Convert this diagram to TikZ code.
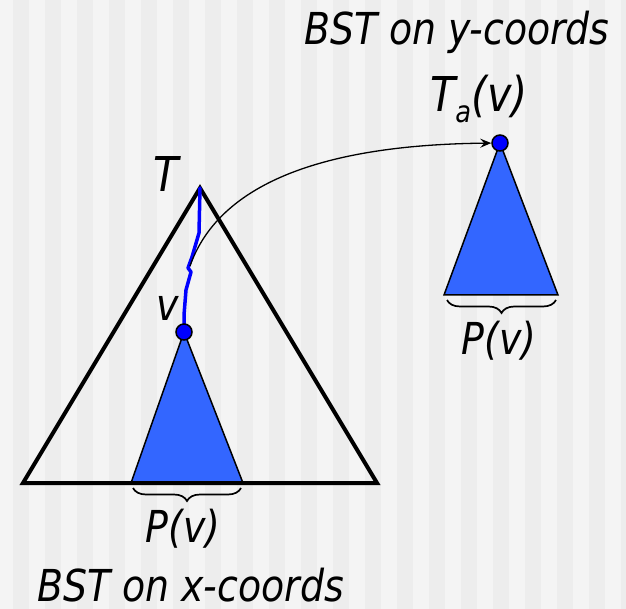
\documentclass[tikz,border=0pt]{standalone}
\usepackage{fontspec}
\setmainfont{DejaVu Sans}[FakeStretch=0.86]
\usetikzlibrary{arrows.meta,decorations.pathreplacing}
\definecolor{bgl}{HTML}{F4F4F4}
\definecolor{bgd}{HTML}{EDEDED}
\definecolor{trifill}{HTML}{3366FF}
\definecolor{pathblue}{HTML}{0000FF}
\begin{document}
\begin{tikzpicture}[x=1pt,y=-1pt,
  lbl/.style={font=\fontsize{44}{48}\selectfont\itshape, inner sep=0pt},
  biglbl/.style={font=\fontsize{48}{52}\selectfont\itshape, inner sep=0pt},
  dot/.style={circle, draw=black, line width=1.5pt, fill=pathblue, minimum size=16pt, inner sep=0pt},
  subtree/.style={fill=trifill, draw=black, line width=1.5pt, line join=miter},
  bigtree/.style={draw=black, line width=4pt, line join=miter},
  searchpath/.style={draw=pathblue, line width=3.5pt, line join=round, line cap=round},
  conn/.style={draw=black, line width=1.3pt, -{Stealth[length=11pt,width=9pt,inset=4pt]}},
  pbrace/.style={draw=black, line width=1.7pt, decorate, decoration={brace, mirror, amplitude=13pt}}
]
% background
\useasboundingbox (0,0) rectangle (626,609);
\fill[bgl] (0,0) rectangle (626,609);
\foreach \k in {0,...,19}{
  \fill[bgd] ({13+32*\k},0) rectangle ({29+32*\k},609);
}
% coordinates
\coordinate (apex) at (200,188);
\coordinate (bl) at (23,483);
\coordinate (br) at (377,483);
\coordinate (vc) at (184,332);
\coordinate (tac) at (500,143);
\coordinate (s) at (190,266);
% left subtree
\path[subtree] (vc) -- (131,483) -- (243,483) -- cycle;
% big tree
\draw[bigtree] (apex) -- (bl) -- (br) -- cycle;
% right subtree
\path[subtree] (tac) -- (444,295) -- (558,295) -- cycle;
% search path
\draw[searchpath] (apex) -- (199,233) -- (192,257) -- (188,268) -- (191,272) -- (186,290) -- (184,315) -- (vc);
% dots
\node[dot] (v) at (vc) {};
\node[dot] (ta) at (tac) {};
% connector
\draw[conn] (s) .. controls (215,195) and (300,145) .. (ta);
% braces
\coordinate (b1l) at (133,488);
\coordinate (b1r) at (241,488);
\coordinate (b2l) at (447,300);
\coordinate (b2r) at (556,300);
\draw[pbrace] (b1l) -- (b1r);
\draw[pbrace] (b2l) -- (b2r);
% labels
\node[biglbl, anchor=base] (tl) at (166,192) {T};
\node[lbl, anchor=base] (vl) at (168,320) {v};
\node[biglbl, anchor=base west] (tal) at (430,112) {T\raisebox{-11pt}{\fontsize{30}{30}\selectfont a}(v)};
\node[lbl, anchor=base] (p1) at (183,542) {P(v)};
\node[lbl, anchor=base] (p2) at (499,354) {P(v)};
\node[lbl, anchor=base west] (ty) at (304,45) {BST on y-coords};
\node[lbl, anchor=base west, text depth=0pt] (tx) at (37,601) {BST on x-coords};
\end{tikzpicture}
\end{document}
